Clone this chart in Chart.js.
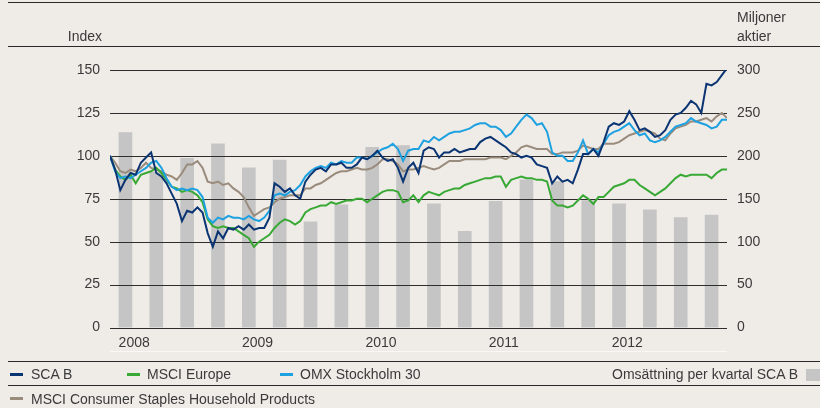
<!DOCTYPE html>
<html lang="sv">
<head>
    <meta charset="UTF-8">
    <title>SCA B kursutveckling</title>
    <script src="https://cdn.jsdelivr.net/npm/chart.js"></script>
    <style>
        body { margin: 0; background: #efece8; font-family: "Liberation Sans", Arial, sans-serif; color: #3a3a3a; }
        #wrap { position: relative; width: 820px; height: 408px; overflow: hidden; }
        #grafico { position: absolute; left: 0; top: 0; }
        .linje { position: absolute; left: 8px; right: 0; height: 1px; background: #2a2a2a; }
        .txt { position: absolute; font-size: 14px; line-height: 16px; white-space: nowrap; }
        .streck { position: absolute; width: 13px; height: 3px; }
    </style>
</head>
<body>
<div id="wrap">
    <canvas id="grafico" width="820" height="408"></canvas>
    <div class="linje" style="top:2px"></div>
    <div class="linje" style="top:46px"></div>
    <div class="txt" style="left:50px; top:28px; width:52px; text-align:right">Index</div>
    <div class="txt" style="left:737px; top:9px">Miljoner</div>
    <div class="txt" style="left:737px; top:28px">aktier</div>
    <div style="position:absolute; left:110px; width:617px; top:351px; height:1px; background:#f9f8f6"></div>

    <div class="linje" style="top:361px"></div>
    <div class="streck" style="left:10px; top:373px; background:#0b3473"></div>
    <div class="txt" style="left:31px; top:366px">SCA B</div>
    <div class="streck" style="left:127px; top:373px; background:#39a935"></div>
    <div class="txt" style="left:147px; top:366px">MSCI Europe</div>
    <div class="streck" style="left:280px; top:373px; background:#1ea1e1"></div>
    <div class="txt" style="left:300px; top:366px">OMX Stockholm 30</div>
    <div class="txt" style="right:22px; top:366px">Omsättning per kvartal SCA B</div>
    <div style="position:absolute; left:806px; top:369px; width:14px; height:12px; background:#c5c5c5"></div>
    <div class="linje" style="top:385px"></div>
    <div class="streck" style="left:10px; top:397px; background:#9a8c7d"></div>
    <div class="txt" style="left:31px; top:391px">MSCI Consumer Staples Household Products</div>
</div>

<script>
    // halvmånadsvis index, 2008-2012 (121 punkter)
    const scaB = [100,92,80,86,90,89,96,99,102,90,88,84,78,72,62,68,67,70,67,55,
        47,56,52,58,57,59,57,60,57,58,58,64,84,82,79,81,77,75,85,89,
        92,93,91,95,95,96,93,93,95,99,98,100,103,99,97,98,93,85,93,96,
        90,103,105,104,99,102,102,104,102,103,104,104,108,110,111,109,107,105,102,101,
        99,100,99,95,94,93,84,88,85,86,84,92,101,101,104,100,108,117,119,118,
        120,126,121,115,116,114,111,112,115,121,124,125,128,132,130,125,142,141,143,147,151];

    const msciEurope = [100,92,88,86,89,84,89,90,91,93,90,86,82,81,79,80,79,77,73,63,
        59,58,59,58,58,56,54,52,47,50,52,54,58,61,63,62,60,62,67,69,
        70,71,71,73,72,73,74,74,75,75,73,75,77,79,80,80,79,73,74,77,
        73,77,79,78,77,79,80,81,81,83,84,85,86,87,87,88,88,82,86,87,
        88,87,87,86,86,85,74,71,71,70,71,74,77,75,72,76,76,79,82,83,
        84,86,86,83,81,79,77,79,81,84,87,89,88,89,89,89,89,87,90,92,92];

    const omxS30 = [100,91,87,88,87,89,91,93,96,97,93,87,82,80,81,80,81,80,76,64,
        61,64,63,65,64,64,63,65,63,62,64,68,77,78,77,79,80,83,88,91,
        93,94,93,96,95,97,96,96,99,99,98,100,102,104,105,107,104,97,103,104,
        104,109,108,111,109,111,113,114,114,115,116,118,119,119,117,117,115,111,113,117,
        121,124,122,118,119,114,102,100,100,97,97,102,109,101,104,102,107,112,114,115,
        117,119,115,112,113,109,108,109,111,114,117,118,119,122,120,119,118,116,117,121,121];

    const msciHousehold = [100,96,91,90,92,91,93,96,93,92,91,89,88,86,90,95,95,97,93,85,
        84,85,83,84,81,79,76,70,65,67,69,70,73,75,76,77,77,77,81,81,
        83,84,86,88,90,91,91,92,93,92,92,93,95,98,98,97,95,91,92,92,
        93,94,93,92,93,95,97,97,97,98,98,98,98,98,99,99,99,98,100,102,
        105,106,105,104,104,104,101,101,102,102,102,103,106,105,104,104,107,107,107,108,
        110,112,113,114,115,114,113,110,109,113,116,117,118,120,120,121,122,120,123,125,122];

    // omsättning per kvartal, miljoner aktier (2008 Q1 - 2012 Q4)
    const omsattning = [227,181,197,214,186,195,123,143,210,212,144,112,147,172,170,148,144,137,128,131];

    const years = ["2008", "2009", "2010", "2011", "2012"];
    const yearTickPos = [4.7, 28.7, 52.7, 76.6, 100.6];
    const indexTicks = [0, 25, 50, 75, 100, 125, 150];

    const toPoints = arr => arr.map((v, i) => ({ x: i, y: v }));

    // rutnätslinjer ritas över staplarna men under kurvorna
    const gridOverBars = {
        id: "gridOverBars",
        afterDatasetDraw(chart, args) {
            if (args.meta.type !== "bar") return;
            const ctx = chart.ctx, y = chart.scales.y, a = chart.chartArea;
            ctx.save();
            ctx.strokeStyle = "#2e2e2e";
            ctx.lineWidth = 1.2;
            y.ticks.forEach(t => {
                const py = Math.round(y.getPixelForValue(t.value)) + 0.5;
                ctx.beginPath();
                ctx.moveTo(a.left, py);
                ctx.lineTo(a.right, py);
                ctx.stroke();
            });
            ctx.restore();
        }
    };

    const lineDs = (label, data, color, order) => ({
        type: "line", label: label, data: toPoints(data), borderColor: color,
        borderWidth: 2, pointRadius: 0, tension: 0, yAxisID: "y", order: order
    });

    const ctx = document.getElementById("grafico").getContext("2d");
    new Chart(ctx, {
        data: {
            datasets: [
                {
                    type: "bar", label: "Omsättning per kvartal SCA B",
                    data: omsattning.map((v, q) => ({ x: q * 6 + 3, y: v })),
                    backgroundColor: "#c5c5c5", barThickness: 13, yAxisID: "y2", order: 10
                },
                lineDs("MSCI Consumer Staples Household Products", msciHousehold, "#9a8c7d", 4),
                lineDs("MSCI Europe", msciEurope, "#39a935", 3),
                lineDs("OMX Stockholm 30", omxS30, "#1ea1e1", 2),
                lineDs("SCA B", scaB, "#0b3473", 1)
            ]
        },
        options: {
            responsive: false,
            animation: false,
            devicePixelRatio: 1,
            layout: { padding: { top: 70, left: 0, right: 0, bottom: 0 } },
            plugins: { legend: { display: false }, tooltip: { enabled: false } },
            scales: {
                x: {
                    type: "linear", min: 0, max: 120, offset: false,
                    grid: { display: false, drawTicks: false, offset: false }, border: { display: false },
                    afterBuildTicks: s => { s.ticks = yearTickPos.map(v => ({ value: v })); },
                    afterFit: s => { s.height = 80.5; },
                    ticks: {
                        callback: (v, i) => years[i], color: "#3a3a3a", padding: 7,
                        maxRotation: 0, autoSkip: false,
                        font: { family: "Liberation Sans", size: 14 }
                    }
                },
                y: {
                    position: "left", min: 0, max: 150,
                    grid: { display: false, drawTicks: false }, border: { display: false },
                    afterBuildTicks: s => { s.ticks = indexTicks.map(v => ({ value: v })); },
                    afterFit: s => { s.width = 110; },
                    ticks: { color: "#3a3a3a", padding: 10, font: { family: "Liberation Sans", size: 14 } }
                },
                y2: {
                    position: "right", min: 0, max: 300,
                    grid: { display: false, drawTicks: false }, border: { display: false },
                    afterFit: s => { s.width = 93; },
                    ticks: { stepSize: 50, color: "#3a3a3a", padding: 10, font: { family: "Liberation Sans", size: 14 } }
                }
            }
        },
        plugins: [gridOverBars]
    });
</script>
</body>
</html>
